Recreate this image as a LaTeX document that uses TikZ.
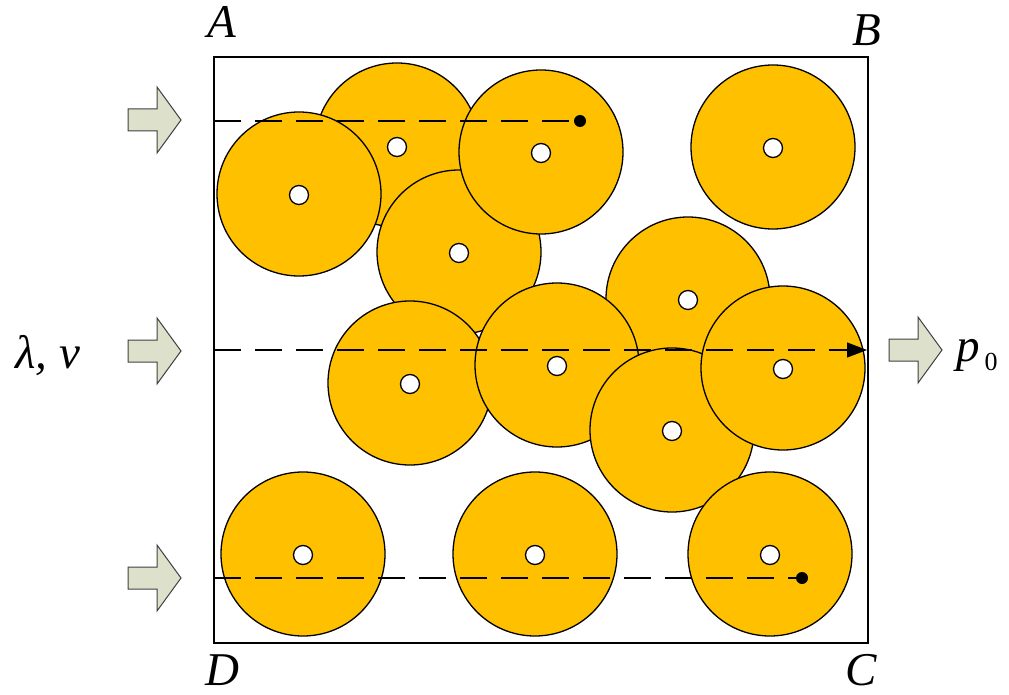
\documentclass[tikz,border=0pt]{standalone}
\usepackage{fontspec}
\setmainfont{Liberation Serif}
\usetikzlibrary{arrows.meta}
\definecolor{gold}{HTML}{FFC000}
\definecolor{arrowfill}{HTML}{DDE0CB}
\definecolor{arrowline}{HTML}{404040}
\begin{document}
\begin{tikzpicture}[x=1pt,y=-1pt,
  disc/.style={circle,draw=black,fill=gold,line width=1.3pt,minimum size=164pt,inner sep=0pt},
  hole/.style={circle,draw=black,fill=white,line width=1.3pt,minimum size=19pt,inner sep=0pt},
  blackdot/.style={circle,fill=black,minimum size=12pt,inner sep=0pt},
  flowline/.style={line width=1.2pt,dash pattern=on 27pt off 14pt},
  lbl/.style={font=\fontsize{47}{50}\selectfont\itshape,inner sep=0pt,text depth=0pt},
  blockarrow/.pic={\draw[draw=arrowline,fill=arrowfill,line width=1pt] (0,-11)--(29,-11)--(29,-33)--(53,0)--(29,33)--(29,11)--(0,11)--cycle;}
]
\useasboundingbox (0,0) rectangle (1009,695);
% discs, back to front
\node[disc] (dA) at (397,145) {}; \node[hole] (hA) at (397,147) {};
\node[disc] (dB) at (299,194) {}; \node[hole] (hB) at (299,195) {};
\node[disc] (dC) at (459,252) {}; \node[hole] (hC) at (459,253) {};
\node[disc] (dD) at (541,152) {}; \node[hole] (hD) at (541,153) {};
\node[disc] (dE) at (410,383) {}; \node[hole] (hE) at (410,384) {};
\node[disc] (dG) at (688,299) {}; \node[hole] (hG) at (688,300) {};
\node[disc] (dF) at (557,365) {}; \node[hole] (hF) at (557,366) {};
\node[disc] (dH) at (672,430) {}; \node[hole] (hH) at (672,431) {};
\node[disc] (dI) at (783,368) {}; \node[hole] (hI) at (783,369) {};
\node[disc] (dJ) at (770,554) {}; \node[hole] (hJ) at (770,555) {};
\node[disc] (dK) at (773,147) {}; \node[hole] (hK) at (773,148) {};
\node[disc] (dL) at (303,554) {}; \node[hole] (hL) at (303,555) {};
\node[disc] (dM) at (535,554) {}; \node[hole] (hM) at (535,555) {};
% box
\node[draw=black,line width=1.5pt,minimum width=654pt,minimum height=586pt,inner sep=0pt] (box) at (541,350) {};
% flow lines
\node[blackdot] (bd1) at (580,121) {};
\node[blackdot] (bd3) at (802,578) {};
\coordinate (s1) at (214,121);
\coordinate (s2) at (214,350);
\coordinate (e2) at (867,350);
\coordinate (s3) at (214,578);
\draw[flowline] (s1) -- (bd1.center);
\draw[flowline,-{Triangle[length=20pt,width=15pt]}] (s2) -- (e2);
\draw[flowline] (s3) -- (bd3.center);
% block arrows
\pic (inA) at (128,120) {blockarrow};
\pic (inB) at (128,351) {blockarrow};
\pic (inC) at (128,578) {blockarrow};
\pic (outA) at (889,350) {blockarrow};
% labels
\node[lbl,anchor=base] (lA) at (222,38) {A};
\node[lbl,anchor=base] (lB) at (867,46) {B};
\node[lbl,anchor=base] (lC) at (861,685) {C};
\node[lbl,anchor=base] (lD) at (222,685) {D};
\node[lbl,anchor=base] (lin) at (48,368) {λ, v};
\node[lbl,anchor=base west] (lout) at (956,361) {p\kern5pt\raisebox{-9pt}{\fontsize{26}{26}\selectfont\upshape 0}};
\end{tikzpicture}
\end{document}
